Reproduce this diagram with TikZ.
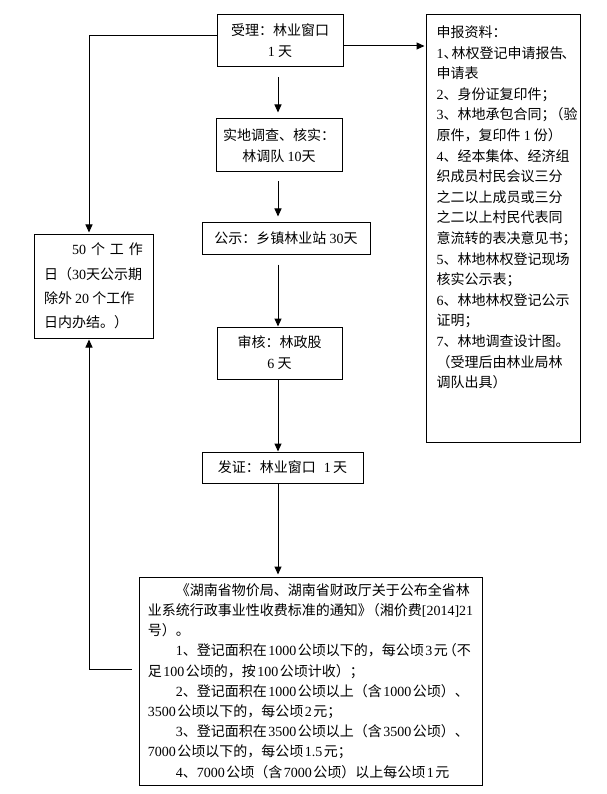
\documentclass[tikz,border=0pt]{standalone}
\usepackage{fontspec}
\setmainfont{Noto Sans CJK SC}
\newfontfamily\lat{Liberation Serif}
\usetikzlibrary{arrows.meta}
\newcommand\nm[1]{{\lat #1}}
\newcommand\gp{\hspace{1.5pt}}
\begin{document}
\begin{tikzpicture}[x=1pt,y=-1pt,
  box/.style={draw,line width=1pt,inner sep=0pt,align=center,font=\fontsize{14}{21}\selectfont},
  txt/.style={inner sep=0pt,align=left,font=\fontsize{14}{20.6}\selectfont},
  arr/.style={line width=1pt,-{Triangle[width=7pt,length=8pt]}}]
\fill[white] (0,0) rectangle (606,794);
\useasboundingbox (0,0) rectangle (606,794);

\node[box,minimum width=126pt,minimum height=52pt] (b1) at (280,41) {受理：林业窗口\\\nm{1} 天};
\node[box,minimum width=126pt,minimum height=53pt] (b2) at (279,145.5) {实地调查、核实：\\林调队 \nm{10}天};
\node[box,minimum width=168pt,minimum height=31pt] (b3) at (286,238.5) {公示：乡镇林业站 \nm{30}天};
\node[box,minimum width=125pt,minimum height=52pt] (b4) at (279.5,353) {审核：林政股\\\nm{6} 天};
\node[box,minimum width=161pt,minimum height=31pt] (b5) at (282.5,467.5) {发证：林业窗口\hspace{8pt}\nm{1}\,天};

\node[box,minimum width=119pt,minimum height=104pt,align=left,font=\fontsize{14}{24.3}\selectfont] (lbox) at (93.5,286)
 {\makebox[99pt][s]{\hspace{2em}\nm{50}\hfill 个\hfill 工\hfill 作}\\
  日（\nm{30}天公示期\\
  除外 \nm{20} 个工作\\
  日内办结。）};

\node[box,minimum width=154pt,minimum height=427pt] (rbox) at (503,228.5) {};
\node[txt,anchor=north west] (rt) at ([xshift=11pt,yshift=-11pt]rbox.north west)
 {申报资料：\\
  \nm{1}、\kern-6pt 林权登记申请报告\kern-2pt、\\
  申请表\\
  \nm{2}、身份证复印件；\\
  \nm{3}、林地承包合同；\kern-6pt（验\\
  原件，复印件 \nm{1} 份）\\
  \nm{4}、经本集体、经济组\\
  织成员村民会议三分\\
  之二以上成员或三分\\
  之二以上村民代表同\\
  意流转的表决意见书；\\
  \nm{5}、林地林权登记现场\\
  核实公示表；\\
  \nm{6}、林地林权登记公示\\
  证明；\\
  \nm{7}、林地调查设计图。\\
  （受理后由林业局林\\
  调队出具）};

\node[box,minimum width=343pt,minimum height=208pt,align=left,font=\fontsize{14}{20.2}\selectfont] (b6) at (310.5,681)
 {\hspace{2em}《湖南省物价局、湖南省财政厅关于公布全省林\\
  业系统行政事业性收费标准的通知》\kern-6pt（湘价费\nm{[2014]21}\\
  号）。\\
  \hspace{2em}\nm{1}、登记面积在\gp\nm{1000}\gp 公顷以下的，每公顷\gp\nm{3}\gp 元\kern-5pt（不\\
  足\gp\nm{100}\gp 公顷的，按\gp\nm{100}\gp 公顷计收）；\\
  \hspace{2em}\nm{2}、登记面积在\gp\nm{1000}\gp 公顷以上（含\gp\nm{1000}\gp 公顷）、\\
  \nm{3500}\gp 公顷以下的，每公顷\gp\nm{2}\gp 元；\\
  \hspace{2em}\nm{3}、登记面积在\gp\nm{3500}\gp 公顷以上（含\gp\nm{3500}\gp 公顷）、\\
  \nm{7000}\gp 公顷以下的，每公顷\gp\nm{1.5}\gp 元；\\
  \hspace{2em}\nm{4}、\nm{7000}\gp 公顷（含\gp\nm{7000}\gp 公顷）以上每公顷\gp\nm{1}\gp 元};

\coordinate (cx) at (278,0);
\coordinate (lx) at (89,0);
\coordinate (ytop) at (0,36);
\coordinate (yr) at (0,46);
\coordinate (ybot) at (0,669);

\draw[arr,shorten <=10pt,shorten >=6pt] (b1.south -| cx) -- (b2.north -| cx);
\draw[arr,shorten <=9pt,shorten >=6pt] (b2.south -| cx) -- (b3.north -| cx);
\draw[arr,shorten <=10pt] (b3.south -| cx) -- (b4.north -| cx);
\draw[arr] (b4.south -| cx) -- (b5.north -| cx);
\draw[arr,shorten >=2pt] (b5.south -| cx) -- (b6.north -| cx);
\draw[arr,shorten >=1pt] (b1.east |- yr) -- (rbox.west |- yr);
\draw[arr,shorten >=1pt] (b1.west |- ytop) -| (lbox.north -| lx);
\draw[arr,shorten <=7pt,shorten >=1pt] (b6.west |- ybot) -| (lbox.south -| lx);
\end{tikzpicture}
\end{document}
